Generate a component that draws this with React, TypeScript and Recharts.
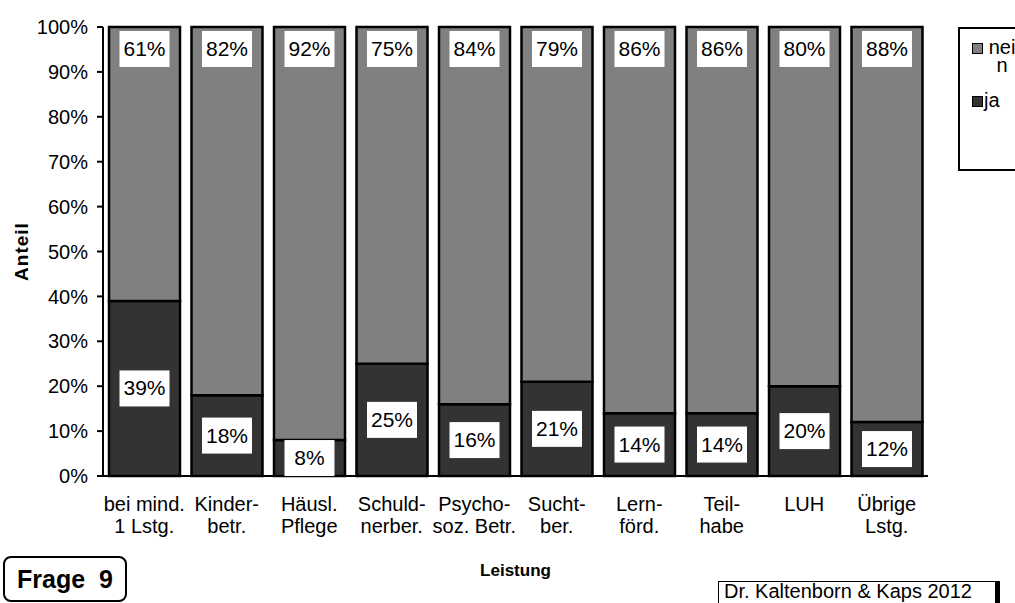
import React from "react";
import { Bar, BarChart, LabelList, XAxis, YAxis } from "recharts";

const categories = [
  "bei mind.|1 Lstg.",
  "Kinder-|betr.",
  "Häusl.|Pflege",
  "Schuld-|nerber.",
  "Psycho-|soz. Betr.",
  "Sucht-|ber.",
  "Lern-|förd.",
  "Teil-|habe",
  "LUH",
  "Übrige|Lstg.",
];
const ja = [39, 18, 8, 25, 16, 21, 14, 14, 20, 12];
const nein = [61, 82, 92, 75, 84, 79, 86, 86, 80, 88];
const yTicks = [0, 10, 20, 30, 40, 50, 60, 70, 80, 90, 100];

const data = categories.map((c, i) => ({ name: c, ja: ja[i], nein: nein[i] }));

const FONT = "'Liberation Sans', Arial, sans-serif";

const CategoryTick = (props: any) => {
  const { x, y, payload } = props;
  const lines = String(payload.value).split("|");
  return (
    <text x={x} y={y} textAnchor="middle" fontFamily={FONT} fontSize={20} fill="#000">
      {lines.map((l, i) => (
        <tspan key={i} x={x} dy={i === 0 ? 27 : 22}>
          {l}
        </tspan>
      ))}
    </text>
  );
};

const boxLabel = (where: "top" | "center") => (props: any) => {
  const { x, y, width, height, value } = props;
  const w = 50;
  const h = 36;
  const cx = x + width / 2;
  const top = where === "top" ? y + 4 : y + height / 2 - h / 2;
  return (
    <g>
      <rect x={cx - w / 2} y={top} width={w} height={h} fill="#fff" />
      <text
        x={cx}
        y={top + h / 2 + 7}
        textAnchor="middle"
        fontFamily={FONT}
        fontSize={21}
        fill="#000"
      >
        {value}%
      </text>
    </g>
  );
};

const LegendBox = () => (
  <div
    style={{
      position: "absolute",
      left: 958,
      top: 27,
      width: 90,
      height: 144,
      border: "2px solid #000",
      background: "#fff",
      fontFamily: FONT,
      fontSize: 20,
      boxSizing: "border-box",
    }}
  >
    <div style={{ position: "absolute", left: 12, top: 9, display: "flex", alignItems: "flex-start" }}>
      <span
        style={{ width: 9, height: 9, background: "#808080", border: "1.5px solid #000", marginTop: 5 }}
      />
      <span style={{ width: 36, wordBreak: "break-all", lineHeight: "18px", marginLeft: 1, textAlign: "center" }}>
        nein
      </span>
    </div>
    <div style={{ position: "absolute", left: 12, top: 62, display: "flex", alignItems: "flex-start" }}>
      <span
        style={{ width: 9, height: 9, background: "#333333", border: "1.5px solid #000", marginTop: 5 }}
      />
      <span style={{ lineHeight: "19px", marginLeft: 1 }}>ja</span>
    </div>
  </div>
);

export default function App() {
  return (
    <div style={{ position: "absolute", left: 0, top: 0, width: 1015, height: 603, overflow: "hidden", background: "#fff" }}>
      <BarChart
        width={1015}
        height={603}
        data={data}
        margin={{ top: 27, right: 87, bottom: 67, left: 43 }}
        barCategoryGap={6}
      >
        <XAxis
          dataKey="name"
          tick={<CategoryTick />}
          tickLine={false}
          axisLine={{ stroke: "#000", strokeWidth: 2 }}
          interval={0}
          height={60}
          label={{
            value: "Leistung",
            position: "insideBottom",
            offset: -40,
            fontFamily: FONT,
            fontSize: 17,
            fontWeight: "bold",
            fill: "#000",
          }}
        />
        <YAxis
          width={60}
          domain={[0, 100]}
          ticks={yTicks}
          interval={0}
          tickFormatter={(v: number) => `${v}%`}
          tick={{ fontFamily: FONT, fontSize: 20, fill: "#000" }}
          tickLine={{ stroke: "#000", strokeWidth: 2 }}
          tickSize={6}
          tickMargin={9}
          axisLine={{ stroke: "#000", strokeWidth: 2 }}
          label={{
            value: "Anteil",
            angle: -90,
            position: "insideLeft",
            offset: -22,
            fontFamily: FONT,
            fontSize: 19,
            fontWeight: "bold",
            letterSpacing: 1,
            fill: "#000",
            style: { textAnchor: "middle" },
          }}
        />
        <Bar dataKey="ja" stackId="a" fill="#333333" stroke="#000" strokeWidth={2.5} isAnimationActive={false}>
          <LabelList dataKey="ja" content={boxLabel("center")} />
        </Bar>
        <Bar dataKey="nein" stackId="a" fill="#808080" stroke="#000" strokeWidth={2.5} isAnimationActive={false}>
          <LabelList dataKey="nein" content={boxLabel("top")} />
        </Bar>
      </BarChart>
      <LegendBox />
      <div
        style={{
          position: "absolute",
          left: 3,
          top: 556,
          width: 124,
          height: 46,
          border: "2.5px solid #000",
          borderRadius: 8,
          boxSizing: "border-box",
          fontFamily: FONT,
          fontWeight: "bold",
          fontSize: 25,
          display: "flex",
          alignItems: "center",
          justifyContent: "center",
          whiteSpace: "pre",
        }}
      >
        Frage  9
      </div>
      <div
        style={{
          position: "absolute",
          left: 718,
          top: 581,
          width: 282,
          height: 30,
          border: "1.5px solid #000",
          borderRight: "5px solid #000",
          boxSizing: "border-box",
          fontFamily: FONT,
          fontSize: 20,
          paddingLeft: 5,
          lineHeight: "18px",
          whiteSpace: "nowrap",
        }}
      >
        Dr. Kaltenborn &amp; Kaps 2012
      </div>
    </div>
  );
}
